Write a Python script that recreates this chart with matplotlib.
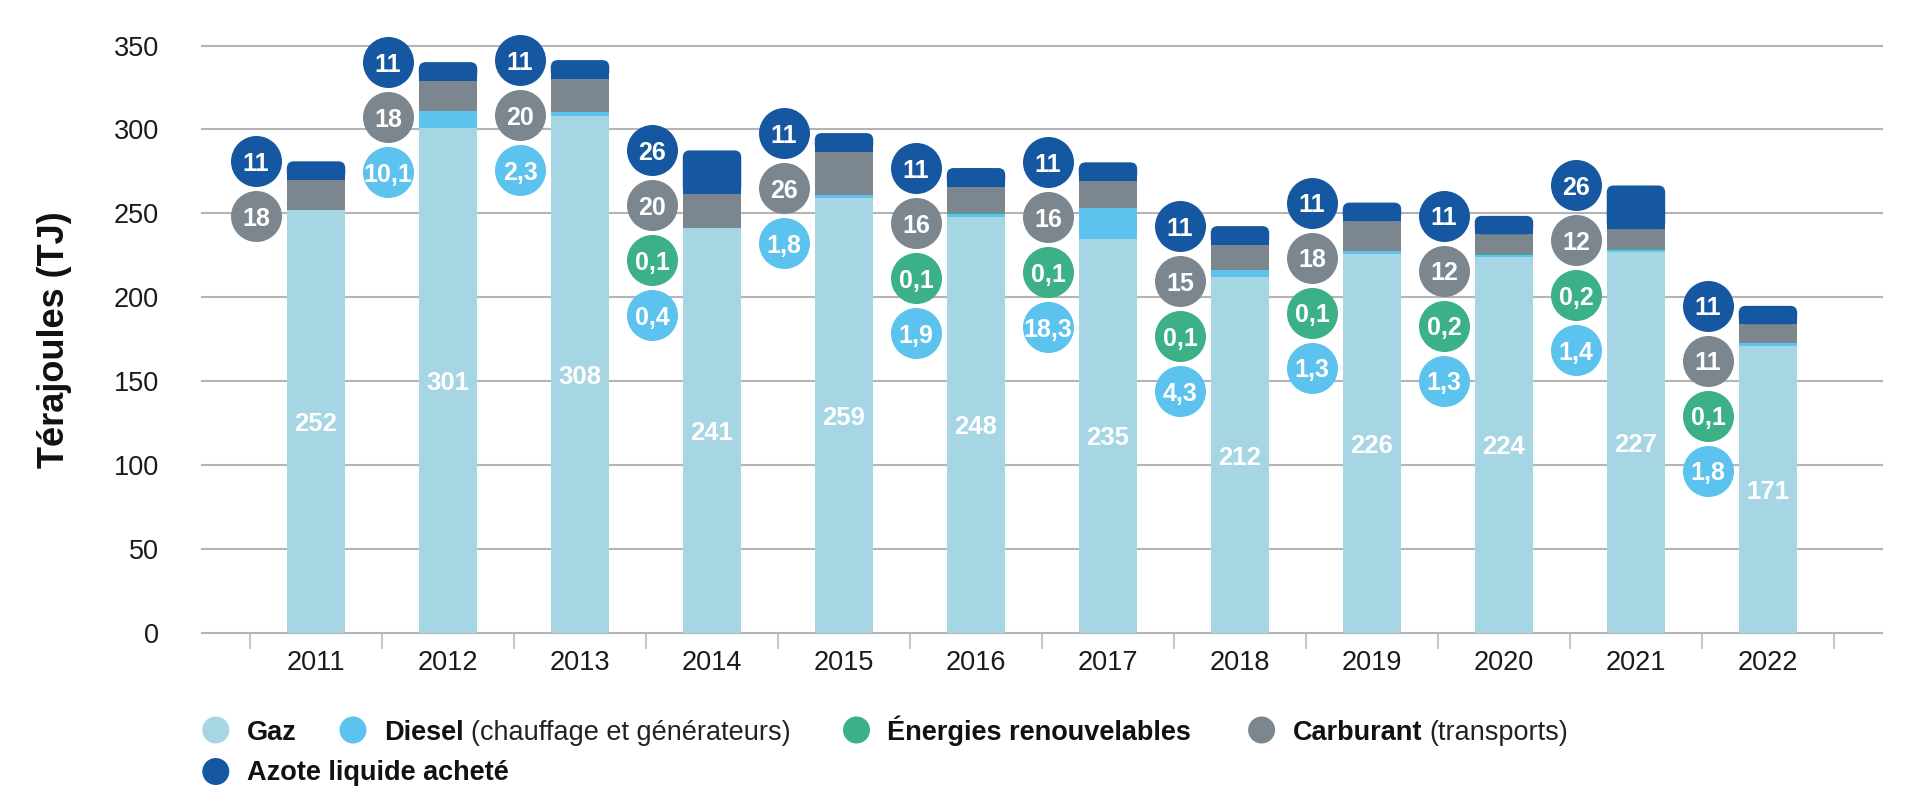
import numpy as np
import matplotlib
matplotlib.use('Agg')
import matplotlib.pyplot as plt
from matplotlib.patches import FancyBboxPatch, Ellipse

plt.rcParams['font.family'] = ['Liberation Sans', 'DejaVu Sans']

# ---------------- data ----------------
years = ['2011', '2012', '2013', '2014', '2015', '2016',
         '2017', '2018', '2019', '2020', '2021', '2022']
gaz = [252, 301, 308, 241, 259, 248, 235, 212, 226, 224, 227, 171]
diesel = [None, 10.1, 2.3, 0.4, 1.8, 1.9, 18.3, 4.3, 1.3, 1.3, 1.4, 1.8]
renouvelables = [None, None, None, 0.1, None, 0.1, 0.1, 0.1, 0.1, 0.2, 0.2, 0.1]
carburant = [18, 18, 20, 20, 26, 16, 16, 15, 18, 12, 12, 11]
azote = [11, 11, 11, 26, 11, 11, 11, 11, 11, 11, 26, 11]
yticks = [0, 50, 100, 150, 200, 250, 300, 350]

series_bold = ['Gaz', 'Diesel', 'Énergies renouvelables', 'Carburant', 'Azote liquide acheté']
series_note = ['', '(chauffage et générateurs)', '', '(transports)', '']
colors = ['#A6D5E3', '#5CC2EE', '#3CB087', '#7B868F', '#1557A0']
y_label = 'Térajoules (TJ)'

# ---------------- figure / axes ----------------
W, H = 1931, 808
fig = plt.figure(figsize=(W / 100, H / 100), dpi=100)
ax_l, ax_r, ax_t, ax_b = 202, 1882, 45.5, 633
ax = fig.add_axes([ax_l / W, 1 - ax_b / H, (ax_r - ax_l) / W, (ax_b - ax_t) / H])
n = len(years)
xlim = (-0.864, n - 1 + 0.864)
ax.set_xlim(*xlim)
ax.set_ylim(yticks[0], yticks[-1])
pxx = (ax_r - ax_l) / (xlim[1] - xlim[0])   # px per x unit
pxy = (ax_b - ax_t) / (yticks[-1] - yticks[0])  # px per y unit

for s in ax.spines.values():
    s.set_visible(False)

grid_col = '#B4B4B4'
for yv in yticks:
    ax.axhline(yv, color=grid_col, lw=1.5, zorder=0, clip_on=False)

x = np.arange(n)
bw = 0.443
stack = [gaz, diesel, renouvelables, carburant, azote]
vals = [np.array([0.0 if a is None else a for a in s], float) for s in stack]
bottom = np.zeros(n)
r_px = 7
for k, (v, col) in enumerate(zip(vals, colors)):
    if k < len(vals) - 1:
        ax.bar(x, v, bw, bottom=bottom, color=col, linewidth=0, zorder=2)
    else:
        ry = r_px / pxy
        rx = r_px / pxx
        for i in range(n):
            p = FancyBboxPatch((x[i] - bw / 2, bottom[i]), bw, v[i],
                               boxstyle=f"round,pad=0,rounding_size={rx}",
                               mutation_aspect=pxx / pxy,
                               facecolor=col, edgecolor='none', zorder=2)
            ax.add_patch(p)
        ax.bar(x, np.maximum(v - ry, 0), bw, bottom=bottom, color=col, linewidth=0, zorder=2)
    bottom = bottom + v
totals = bottom

# gaz value labels
for i in range(n):
    ax.text(x[i], gaz[i] / 2, str(gaz[i]), ha='center', va='center_baseline',
            color='white', fontweight='bold', fontsize=18.5, zorder=5)


def fmt(v):
    return str(v).replace('.', ',')


# circles to the left of bars
circ_order = [(azote, colors[4]), (carburant, colors[3]),
              (renouvelables, colors[2]), (diesel, colors[1])]
step = 55 / pxy
dx = 60 / pxx
for i in range(n):
    k = 0
    for ser, col in circ_order:
        v = ser[i]
        if v is None:
            continue
        cy = totals[i] - k * step
        cx = x[i] - dx
        ax.scatter([cx], [cy], s=(51 * 0.72) ** 2, color=col, linewidths=0,
                   zorder=4, clip_on=False)
        ax.text(cx, cy, fmt(v), ha='center', va='center_baseline', color='white',
                fontweight='bold', fontsize=18, zorder=5, clip_on=False)
        k += 1

# ticks
ax.set_xticks(x)
ax.set_xticklabels(years)
ax.set_xticks(np.arange(-0.5, n, 1), minor=True)
ax.tick_params(axis='x', which='major', length=0, pad=12, labelsize=19.5, labelcolor='#1a1a1a')
ax.tick_params(axis='x', which='minor', length=11.5, width=1.1, color=grid_col, direction='out')
ax.set_yticks(yticks)
ax.tick_params(axis='y', length=0, pad=31, labelsize=19.5, labelcolor='#1a1a1a')

ax.set_ylabel(y_label, fontsize=26, fontweight='bold', color='#111111')
ax.yaxis.set_label_coords((72 - ax_l) / (ax_r - ax_l), 0.5)

# legend (manual, mixed bold/regular)
fig.canvas.draw()
rend = fig.canvas.get_renderer()
leg_pos = [(215.8, 730, 740.5), (353, 730, 740.5), (856.5, 730, 740.5),
           (1261.6, 730, 740.5), (215.8, 771.5, 780.5)]
for (mx, my, by), b, note, col in zip(leg_pos, series_bold, series_note, colors):
    fig.add_artist(Ellipse((mx / W, 1 - my / H), 27 / W, 27 / H,
                           transform=fig.transFigure, facecolor=col, edgecolor='none'))
    t = fig.text((mx + 31) / W, 1 - by / H, b, fontweight='bold', fontsize=19.5,
                 va='baseline', ha='left', color='#111111')
    if note:
        bb = t.get_window_extent(renderer=rend)
        fig.text((bb.x1 + 7) / W, 1 - by / H, note, fontsize=19.5,
                 va='baseline', ha='left', color='#222222')

fig.savefig('out.png', dpi=100)
